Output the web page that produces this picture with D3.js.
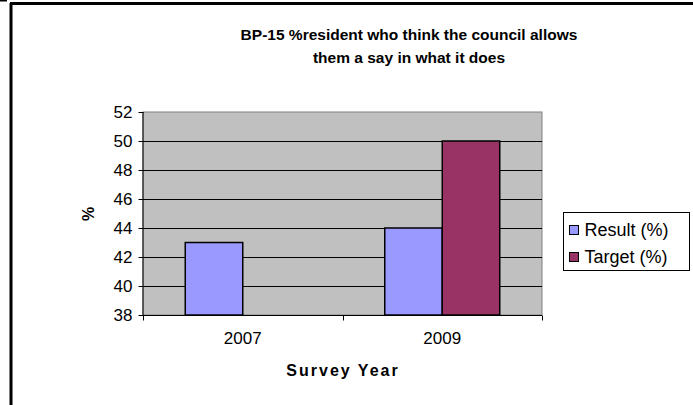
<!DOCTYPE html>
<html>
<head>
<meta charset="utf-8">
<script src="https://cdn.jsdelivr.net/npm/d3@7"></script>
<style>
  body { margin: 0; background: #fff; }
  text { font-family: "Liberation Sans", Arial, sans-serif; }
</style>
</head>
<body>
<div id="chart"></div>
<script>
const years = ["2007", "2009"]
const seriesNames = ["Result (%)", "Target (%)"]
const resultValues = [43, 44]
const targetValues = [null, 50]
const yTicks = [38, 40, 42, 44, 46, 48, 50, 52]

const colors = ["#9999FF", "#993366"]
const width = 693, height = 405
const plot = {left: 143, right: 542, top: 112, bottom: 315}

const svg = d3.select('#chart').append('svg')
    .attr('width', width)
    .attr('height', height)

// outer frame (only top and left edges visible)
svg.append('line').attr('x1', 0).attr('x2', 7).attr('y1', 0.5).attr('y2', 0.5)
    .attr('stroke', '#000').attr('stroke-width', 2)
svg.append('line').attr('x1', 10).attr('x2', width).attr('y1', 3.5).attr('y2', 3.5)
    .attr('stroke', '#000').attr('stroke-width', 3)
svg.append('line').attr('x1', 11).attr('x2', 11).attr('y1', 3).attr('y2', height)
    .attr('stroke', '#000').attr('stroke-width', 3)

// title
const title = svg.append('text')
    .attr('text-anchor', 'middle')
    .attr('font-size', 15.5)
    .attr('font-weight', 'bold')
title.append('tspan').attr('x', 409).attr('y', 40).text('BP-15 %resident who think the council allows')
title.append('tspan').attr('x', 409).attr('y', 63).text('them a say in what it does')

const x0 = d3.scaleBand().domain(years).range([plot.left, plot.right])
const x1 = d3.scaleBand().domain(seriesNames).range([0, x0.bandwidth()]).paddingInner(0).paddingOuter(0.735)
const y = d3.scaleLinear().domain([38, 52]).range([plot.bottom, plot.top])

// plot area
svg.append('rect')
    .attr('x', plot.left).attr('y', plot.top)
    .attr('width', plot.right - plot.left).attr('height', plot.bottom - plot.top)
    .attr('fill', '#C0C0C0')
    .attr('stroke', '#808080')

// gridlines
svg.append('g').selectAll('line')
    .data(yTicks.slice(1, -1))
    .join('line')
    .attr('x1', plot.left).attr('x2', plot.right)
    .attr('y1', d => Math.round(y(d)) + 0.5).attr('y2', d => Math.round(y(d)) + 0.5)
    .attr('stroke', '#000')

// bars
const rows = years.map((yr, i) => [
    {year: yr, name: seriesNames[0], value: resultValues[i], color: colors[0]},
    {year: yr, name: seriesNames[1], value: targetValues[i], color: colors[1]},
])
svg.append('g').selectAll('g')
    .data(rows)
    .join('g')
    .attr('transform', d => `translate(${x0(d[0].year)},0)`)
    .selectAll('rect')
    .data(d => d.filter(v => v.value != null))
    .join('rect')
    .attr('x', d => x1(d.name))
    .attr('y', d => y(d.value))
    .attr('width', x1.bandwidth())
    .attr('height', d => y(38) - y(d.value))
    .attr('fill', d => d.color)
    .attr('stroke', '#000')
    .attr('stroke-width', 1.5)

// y axis
const yAxis = svg.append('g')
    .attr('transform', `translate(${plot.left + 0.5},0)`)
    .call(d3.axisLeft(y).tickValues(yTicks).tickSize(5).tickPadding(6))
yAxis.select('.domain').attr('stroke', '#000').attr('d', `M-0.5,${plot.top}V${plot.bottom}`)
yAxis.selectAll('text').attr('font-size', 17).attr('font-family', '"Liberation Sans", Arial, sans-serif').attr('fill', '#000')

// x axis
const xAxis = svg.append('g')
    .attr('transform', `translate(0,${plot.bottom + 0.5})`)
xAxis.append('line').attr('x1', plot.left).attr('x2', plot.right).attr('stroke', '#000')
xAxis.selectAll('line.tick')
    .data([plot.left, (plot.left + plot.right) / 2, plot.right])
    .join('line')
    .attr('class', 'tick')
    .attr('x1', d => Math.round(d) + 0.5).attr('x2', d => Math.round(d) + 0.5)
    .attr('y1', 0).attr('y2', 5)
    .attr('stroke', '#000')
xAxis.selectAll('text')
    .data(years)
    .join('text')
    .attr('x', d => x0(d) + x0.bandwidth() / 2)
    .attr('y', 28)
    .attr('text-anchor', 'middle')
    .attr('font-size', 17)
    .text(d => d)

// axis titles
svg.append('text')
    .attr('x', 343).attr('y', 376)
    .attr('text-anchor', 'middle')
    .attr('font-size', 16)
    .attr('font-weight', 'bold')
    .attr('letter-spacing', 2)
    .text('Survey Year')
svg.append('text')
    .attr('transform', 'translate(94,214) rotate(-90)')
    .attr('text-anchor', 'middle')
    .attr('font-size', 16)
    .attr('font-weight', 'bold')
    .text('%')

// legend
const legend = svg.append('g').attr('transform', 'translate(563.5,212.5)')
legend.append('rect').attr('width', 126).attr('height', 58)
    .attr('fill', '#fff').attr('stroke', '#000')
const items = legend.selectAll('g')
    .data(seriesNames)
    .join('g')
    .attr('transform', (d, i) => `translate(6,${17 + i * 27})`)
items.append('rect').attr('x', 0).attr('y', -4).attr('width', 9).attr('height', 9)
    .attr('fill', (d, i) => colors[i]).attr('stroke', '#000')
items.append('text').attr('x', 15).attr('y', 6.5).attr('font-size', 18).text(d => d)
</script>
</body>
</html>
